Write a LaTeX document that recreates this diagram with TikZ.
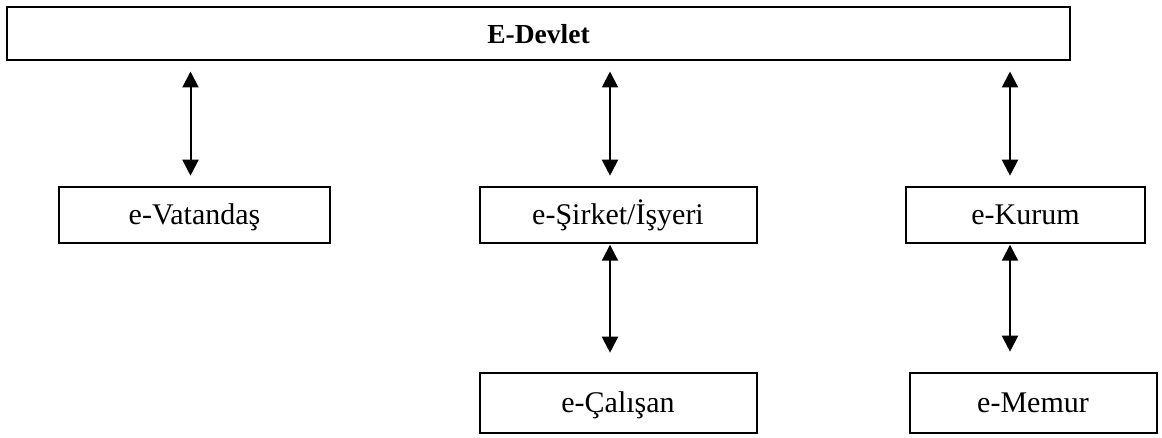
\documentclass[tikz,border=0pt]{standalone}
\usepackage{fontspec}
\setmainfont{Liberation Serif}
\usetikzlibrary{arrows.meta}
\tikzset{>={Triangle[length=16pt,width=16pt]}}
\tikzset{
  unit/.style = {
    draw, line width=2pt, inner sep=0pt,
    text height=20pt, text depth=0pt,
    font=\fontsize{30}{34}\selectfont
  },
  link/.style = {<->, line width=2pt}
}

\begin{document}
\begin{tikzpicture}[x=1pt,y=-1pt]
  \useasboundingbox (0,0) rectangle (1162,438);
  \node[unit,minimum width=1063pt,minimum height=53pt,font=\fontsize{27.5}{32}\selectfont\bfseries] (devlet) at (538.5,34) {E-Devlet};
  \node[unit,minimum width=271pt,minimum height=56pt] (vatandas) at (194.5,214.7) {e-Vatandaş};
  \node[unit,minimum width=277pt,minimum height=56pt] (sirket) at (618,214.7) {e-Şirket/İşyeri};
  \node[unit,minimum width=239pt,minimum height=56pt] (kurum) at (1025.5,214.7) {e-Kurum};
  \node[unit,minimum width=277pt,minimum height=60pt] (calisan) at (618,402.7) {e-Çalışan};
  \node[unit,minimum width=247pt,minimum height=60pt] (memur) at (1033,402.7) {e-Memur};
  % links to E-Devlet
  \draw[link,shorten <=10pt,shorten >=10pt] ([xshift=-4pt]vatandas.north |- devlet.south) -- ([xshift=-4pt]vatandas.north);
  \draw[link,shorten <=10pt,shorten >=10pt] ([xshift=-8pt]sirket.north |- devlet.south) -- ([xshift=-8pt]sirket.north);
  \draw[link,shorten <=10pt,shorten >=10pt] ([xshift=-15.5pt]kurum.north |- devlet.south) -- ([xshift=-15.5pt]kurum.north);
  % second level
  \draw[link,shorten <=1pt,shorten >=19pt] ([xshift=-8pt]sirket.south) -- ([xshift=-8pt]sirket.south |- calisan.north);
  \draw[link,shorten <=1pt,shorten >=20pt] ([xshift=-15.5pt]kurum.south) -- ([xshift=-15.5pt]kurum.south |- memur.north);
\end{tikzpicture}
\end{document}
